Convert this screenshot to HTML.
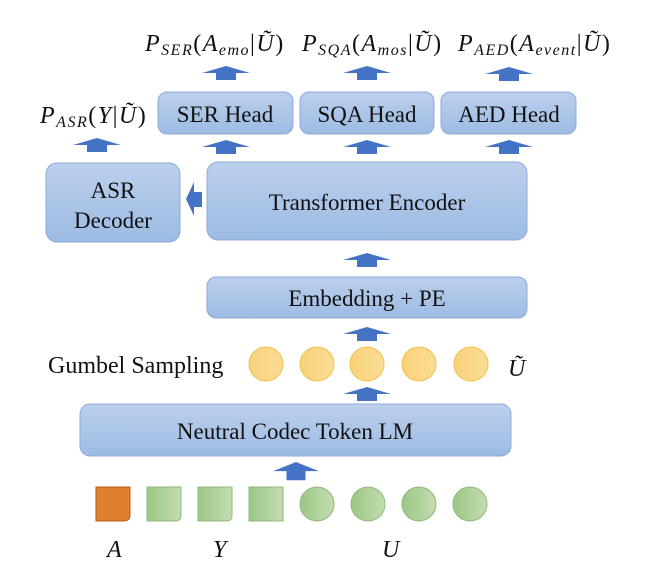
<!DOCTYPE html>
<html><head><meta charset="utf-8"><style>
body{margin:0;background:#fff;width:651px;height:578px;overflow:hidden}
svg text{font-family:"Liberation Serif",serif;fill:#111}
</style></head><body>
<svg width="651" height="578" viewBox="0 0 651 578" xmlns="http://www.w3.org/2000/svg">
<defs>
<linearGradient id="b" x1="0" y1="0" x2="0" y2="1"><stop offset="0" stop-color="#bcd0ec"/><stop offset="1" stop-color="#9dbbe3"/></linearGradient>
<linearGradient id="y" x1="0" y1="0" x2="1" y2="0"><stop offset="0" stop-color="#f9d27a"/><stop offset="1" stop-color="#fbdc95"/></linearGradient>
<linearGradient id="g" x1="0" y1="0" x2="1" y2="0"><stop offset="0" stop-color="#9cc784"/><stop offset="1" stop-color="#c3dcb1"/></linearGradient>
<polygon id="ar" points="0,0 24,7 10,7 10,14 -10,14 -10,7 -24,7" fill="#4472c4"/>
</defs>
<g stroke="#8eaadb" stroke-width="1" fill="url(#b)">
<rect x="158" y="92" width="135" height="42" rx="9"/>
<rect x="300" y="92" width="134" height="42" rx="9"/>
<rect x="441" y="92" width="135" height="42" rx="9"/>
<rect x="207" y="162" width="320" height="78" rx="11"/>
<rect x="46" y="163" width="134" height="79" rx="11"/>
<rect x="207" y="277" width="320" height="41" rx="9"/>
<rect x="80" y="404" width="431" height="52" rx="10"/>
</g>
<g font-size="23" text-anchor="middle">
<text x="225" y="122">SER Head</text>
<text x="367" y="122">SQA Head</text>
<text x="509" y="122">AED Head</text>
<text x="367" y="210">Transformer Encoder</text>
<text x="113" y="198">ASR</text>
<text x="113" y="228">Decoder</text>
<text x="367" y="306">Embedding + PE</text>
<text x="295" y="439">Neutral Codec Token LM</text>
</g>
<text x="48" y="373" font-size="24">Gumbel Sampling</text>
<use href="#ar" x="226" y="66"/>
<use href="#ar" x="367" y="66"/>
<use href="#ar" x="509" y="67"/>
<use href="#ar" x="226" y="140"/>
<use href="#ar" x="367" y="140"/>
<use href="#ar" x="509" y="140"/>
<use href="#ar" x="97" y="138"/>
<use href="#ar" x="367" y="253"/>
<use href="#ar" x="367" y="327"/>
<use href="#ar" x="367" y="387"/>
<g transform="translate(296,462) scale(0.95,1.3)"><use href="#ar"/></g>
<polygon points="186,199 194,182 194,192 202,192 202,207 194,207 194,216" fill="#4472c4"/>
<g fill="url(#y)" stroke="#efc14a">
<circle cx="266" cy="364" r="17"/><circle cx="317" cy="364" r="17"/><circle cx="367" cy="364" r="17"/><circle cx="419" cy="364" r="17"/><circle cx="471" cy="364" r="17"/>
</g>
<path d="M96,487 H130 V515 Q130,521 124,521 H96 Z" fill="#e07f2f" stroke="#b55b1a"/>
<g fill="url(#g)" stroke="#8fb87a">
<path d="M147,487 H181 V515 Q181,521 175,521 H147 Z"/>
<path d="M198,487 H232 V515 Q232,521 226,521 H198 Z"/>
<path d="M249,487 H283 V521 H249 Z"/>
<circle cx="317" cy="504" r="17"/><circle cx="368" cy="504" r="17"/><circle cx="419" cy="504" r="17"/><circle cx="470" cy="504" r="17"/>
</g>
<g font-size="24" font-style="italic" letter-spacing="1.5">
<text x="107" y="557">A</text><text x="213" y="557">Y</text><text x="382" y="557">U</text>
<text x="508" y="376">Ũ</text>
<text x="145" y="51">P<tspan font-size="16" dy="4">SER</tspan><tspan dy="-4" font-style="normal">(</tspan>A<tspan font-size="16" dy="4">emo</tspan><tspan dy="-4" font-style="normal">|</tspan>Ũ<tspan font-style="normal">)</tspan></text>
<text x="302" y="51">P<tspan font-size="16" dy="4">SQA</tspan><tspan dy="-4" font-style="normal">(</tspan>A<tspan font-size="16" dy="4">mos</tspan><tspan dy="-4" font-style="normal">|</tspan>Ũ<tspan font-style="normal">)</tspan></text>
<text x="458" y="51">P<tspan font-size="16" dy="4">AED</tspan><tspan dy="-4" font-style="normal">(</tspan>A<tspan font-size="16" dy="4">event</tspan><tspan dy="-4" font-style="normal">|</tspan>Ũ<tspan font-style="normal">)</tspan></text>
<text x="40" y="123">P<tspan font-size="16" dy="4">ASR</tspan><tspan dy="-4" font-style="normal">(</tspan>Y<tspan font-style="normal">|</tspan>Ũ<tspan font-style="normal">)</tspan></text>
</g>
</svg>
</body></html>
